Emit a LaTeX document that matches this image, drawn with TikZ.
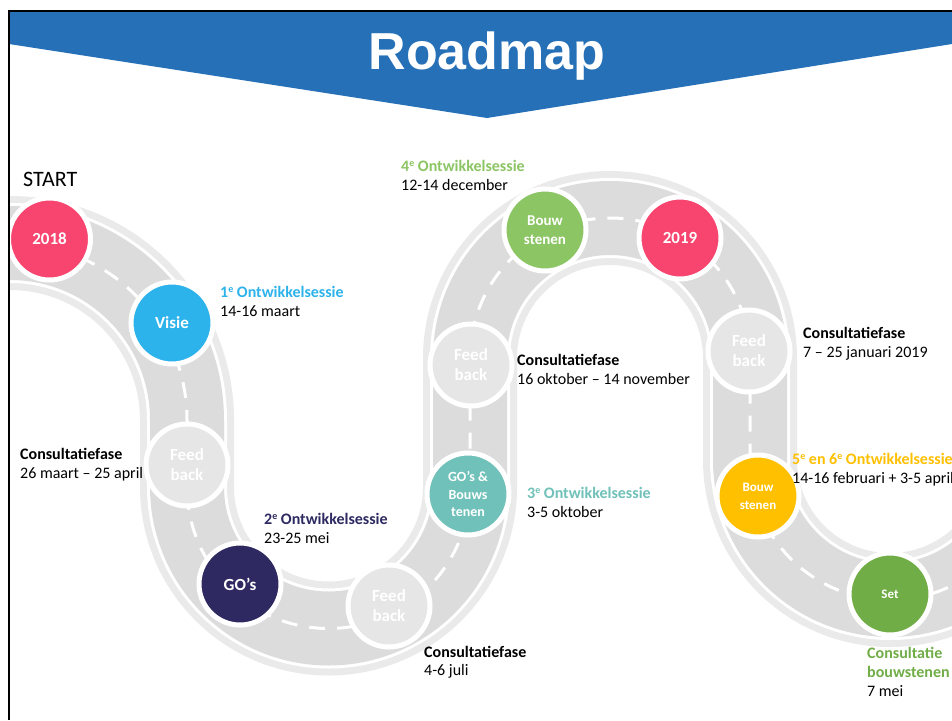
\documentclass[tikz,border=0pt]{standalone}
\usepackage{fontspec}
\setmainfont{Carlito}
\newfontfamily\titlefont{Liberation Sans}
\newcommand{\supe}{\raisebox{5pt}{\fontsize{10}{10}\selectfont e}}
\definecolor{bannerblue}{HTML}{2670B8}
\definecolor{roadgray}{HTML}{DDDCDC}
\definecolor{roadedge}{HTML}{EAEAEA}
\definecolor{fbgray}{HTML}{E6E6E6}
\definecolor{cpink}{HTML}{F7456F}
\definecolor{cblue}{HTML}{2DB3EB}
\definecolor{cpurple}{HTML}{2E2A61}
\definecolor{cteal}{HTML}{70C1B9}
\definecolor{cgreen}{HTML}{8CC564}
\definecolor{cyellow}{HTML}{FFC000}
\definecolor{csetgreen}{HTML}{70AD47}
\begin{document}
\begin{tikzpicture}[x=1pt,y=-1pt,
  mile/.style={circle, minimum size=82pt, inner sep=0pt, draw=white, line width=5pt,
    text=white, align=center, font=\bfseries\fontsize{17}{20}\selectfont},
  fb/.style={mile, fill=fbgray},
  lbl/.style={anchor=base west, inner sep=0pt, font=\fontsize{16}{19}\selectfont},
  hd/.style={anchor=base west, inner sep=0pt, font=\bfseries\fontsize{16}{19}\selectfont}]
\useasboundingbox (0,0) rectangle (952,720);
\fill[white] (0,0) rectangle (952,720);

% road
\begin{scope}
\clip (10,0) rectangle (952,720);
\draw[line width=94pt, roadedge, line join=round,
  postaction={draw=white, line width=80pt},
  postaction={draw=roadgray, line width=74pt},
  postaction={draw=white, line width=3pt, dash pattern=on 16pt off 12pt}]
  (-30,243) -- (10,243)
  .. controls (107.8,243) and (187,322.2) .. (187,420)
  -- (187,487)
  .. controls (187,565.1) and (250.4,628.5) .. (328.5,628.5)
  .. controls (406.6,628.5) and (470,565.1) .. (470,487)
  -- (470,358)
  .. controls (470,280.7) and (532.7,218) .. (610,218)
  .. controls (687.3,218) and (750,280.7) .. (750,358)
  -- (750,460)
  .. controls (750,537.3) and (812.7,600) .. (890,600)
  .. controls (967.3,600) and (1030,537.3) .. (1030,460)
  -- (1030,300);
\end{scope}

% milestones
\node[mile, fill=cpink] (m2018) at (49.5,239) {2018};
\node[mile, fill=cblue] (visie) at (172,323) {Visie};
\node[fb] (fb1) at (187,465) {Feed\\back};
\node[mile, fill=cpurple] (gos) at (240,584) {GO’s};
\node[fb] (fb2) at (389,606) {Feed\\back};
\node[mile, fill=cteal, font=\bfseries\fontsize{14}{17.5}\selectfont] (gobs) at (468,494) {GO’s \&\\Bouws\\tenen};
\node[fb] (fb3) at (471,365) {Feed\\back};
\node[mile, fill=cgreen, font=\bfseries\fontsize{15}{19}\selectfont] (bs1) at (545,230) {Bouw\\stenen};
\node[mile, fill=cpink] (m2019) at (680,238) {2019};
\node[fb] (fb4) at (749,351) {Feed\\back};
\node[mile, fill=cyellow, font=\bfseries\fontsize{13}{18}\selectfont] (bs2) at (758,496) {Bouw\\stenen};
\node[mile, fill=csetgreen, font=\bfseries\fontsize{13}{16}\selectfont] (set) at (890,594) {Set};

% banner and frame
\fill[bannerblue] (9,12) -- (952,12) -- (952,44) -- (487,118) -- (9,44) -- cycle;
\draw[line width=2pt] (9,720) -- (9,11) -- (952,11);
\node[anchor=base, inner sep=0pt, text=white, font=\titlefont\bfseries\fontsize{52}{60}\selectfont] (title) at (487,69) {Roadmap};

% labels
\node[anchor=base west, inner sep=0pt, font=\fontsize{22}{26}\selectfont] (start) at (23,186) {START};

\node[hd, text=cblue] (t1a) at (220,297) {1\supe{} Ontwikkelsessie};
\node[lbl] (t1b) at (220,316) {14-16 maart};

\node[hd] (t2a) at (20,459) {Consultatiefase};
\node[lbl] (t2b) at (20,478) {26 maart – 25 april};

\node[hd, text=cpurple] (t3a) at (264,524) {2\supe{} Ontwikkelsessie};
\node[lbl] (t3b) at (264,543) {23-25 mei};

\node[hd] (t4a) at (424,657) {Consultatiefase};
\node[lbl] (t4b) at (424,675) {4-6 juli};

\node[hd, text=cteal] (t5a) at (527,498) {3\supe{} Ontwikkelsessie};
\node[lbl] (t5b) at (527,517) {3-5 oktober};

\node[hd] (t6a) at (517,365) {Consultatiefase};
\node[lbl] (t6b) at (517,384) {16 oktober – 14 november};

\node[hd, text=cgreen] (t7a) at (401,171) {4\supe{} Ontwikkelsessie};
\node[lbl] (t7b) at (401,190) {12-14 december};

\node[hd] (t8a) at (803,338) {Consultatiefase};
\node[lbl] (t8b) at (803,357) {7 – 25 januari 2019};

\node[hd, text=cyellow] (t9a) at (792,464) {5\supe{} en 6\supe{} Ontwikkelsessie};
\node[lbl] (t9b) at (792,483) {14-16 februari + 3-5 april};

\node[hd, text=csetgreen] (t10a) at (867,658) {Consultatie};
\node[hd, text=csetgreen] (t10b) at (867,677) {bouwstenen};
\node[lbl] (t10c) at (867,696) {7 mei};
\end{tikzpicture}
\end{document}
